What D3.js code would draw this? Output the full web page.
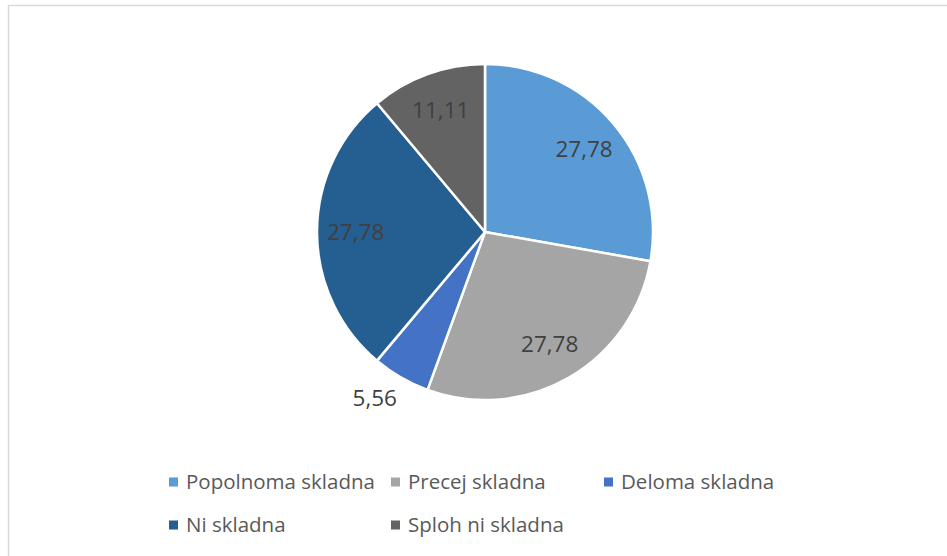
<!DOCTYPE html>
<html>
<head>
<meta charset="utf-8">
<script src="https://cdn.jsdelivr.net/npm/d3@7"></script>
<style>
  body { margin: 0; background: #fff; }
  svg text { font-family: "Open Sans", "Liberation Sans", Arial, sans-serif; }
</style>
</head>
<body>
<svg id="chart" width="947" height="556"></svg>
<script>
const categories = ['Popolnoma skladna', 'Precej skladna', 'Deloma skladna', 'Ni skladna', 'Sploh ni skladna']
const values = [27.78, 27.78, 5.56, 27.78, 11.11]
const colors = ['#5B9BD5', '#A5A5A5', '#4472C4', '#255E91', '#636363']

const data = categories.map((c, i) => ({ name: c, value: values[i], color: colors[i] }))

const svg = d3.select('#chart')

// chart frame (right/bottom edges fall outside the picture)
svg.append('rect')
    .attr('x', 8.5).attr('y', 5.5)
    .attr('width', 1000).attr('height', 600)
    .attr('fill', '#fff')
    .attr('stroke', '#d9d9d9')
    .attr('stroke-width', 1.5)

const cx = 485, cy = 232, radius = 168
const g = svg.append('g').attr('transform', `translate(${cx},${cy})`)

const pie = d3.pie().sort(null).value(d => d.value)
const arc = d3.arc().outerRadius(radius).innerRadius(0)
const labelArc = d3.arc().outerRadius(radius * 0.77).innerRadius(radius * 0.77)
const outerArc = d3.arc().outerRadius(radius + 8).innerRadius(radius + 8)

const arcs = pie(data)

g.selectAll('path.slice').data(arcs).enter().append('path')
    .attr('class', 'slice')
    .attr('d', arc)
    .attr('fill', d => d.data.color)
    .attr('stroke', '#fff')
    .attr('stroke-width', 2.5)
    .attr('stroke-linejoin', 'round')

const fmt = v => v.toFixed(2).replace('.', ',')

const inside = d => d.data.value >= 10

g.selectAll('text.lbl').data(arcs).enter().append('text')
    .attr('class', 'lbl')
    .attr('transform', d => `translate(${(inside(d) ? labelArc : outerArc).centroid(d)})`)
    // small slice: label sits outside, beside the rim
    .attr('text-anchor', d => inside(d) ? 'middle' : 'end')
    .attr('dy', d => inside(d) ? '0.35em' : '0.95em')
    .attr('font-size', 22.5)
    .attr('fill', '#404040')
    .text(d => fmt(d.data.value))

// legend
const legendPos = [[169, 482], [391, 482], [604, 482], [169, 525], [391, 525]]
const legend = svg.selectAll('g.legend').data(data).enter().append('g')
    .attr('class', 'legend')
    .attr('transform', (d, i) => `translate(${legendPos[i]})`)

legend.append('rect')
    .attr('x', 0).attr('y', -4.5)
    .attr('width', 9).attr('height', 9)
    .attr('fill', d => d.color)

legend.append('text')
    .attr('x', 17)
    .attr('dy', '0.35em')
    .attr('font-size', 20.5)
    .attr('fill', '#595959')
    .text(d => d.name)
</script>
</body>
</html>
